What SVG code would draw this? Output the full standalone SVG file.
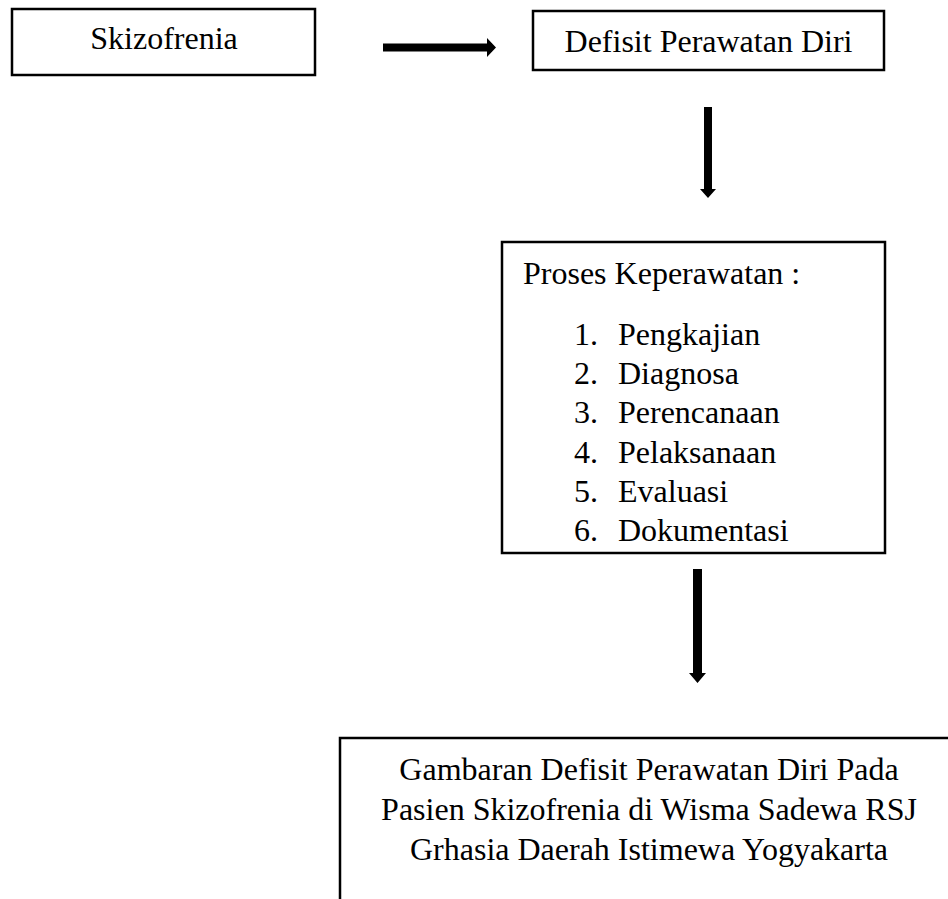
<svg xmlns="http://www.w3.org/2000/svg" width="948" height="899" viewBox="0 0 948 899">
<style>
.box{fill:#fff;stroke:#000;stroke-width:2.5}
.t{font-family:"Liberation Serif","Times New Roman",serif;font-size:32px;fill:#000}
.c{text-anchor:middle}
.arr{fill:#000}
</style>
<rect width="948" height="899" fill="#fff"/>
<g id="node-skizofrenia">
<rect class="box" x="12" y="9" width="303" height="66"/>
<text class="t c" x="164" y="49">Skizofrenia</text>
</g>
<g id="node-defisit">
<rect class="box" x="533" y="11" width="351" height="59"/>
<text class="t c" x="708.5" y="52">Defisit Perawatan Diri</text>
</g>
<g id="node-proses">
<rect class="box" x="502" y="242" width="383" height="311"/>
<text class="t" x="523" y="284">Proses Keperawatan :</text>
<text class="t" x="574" y="345">1.</text><text class="t" x="618" y="345">Pengkajian</text>
<text class="t" x="574" y="384">2.</text><text class="t" x="618" y="384">Diagnosa</text>
<text class="t" x="574" y="423">3.</text><text class="t" x="618" y="423">Perencanaan</text>
<text class="t" x="574" y="463">4.</text><text class="t" x="618" y="463">Pelaksanaan</text>
<text class="t" x="574" y="502">5.</text><text class="t" x="618" y="502">Evaluasi</text>
<text class="t" x="574" y="541">6.</text><text class="t" x="618" y="541">Dokumentasi</text>
</g>
<g id="node-gambaran">
<rect class="box" x="340" y="738" width="620" height="200"/>
<text class="t c" x="649" y="780">Gambaran Defisit Perawatan Diri Pada</text>
<text class="t c" x="649" y="820">Pasien Skizofrenia di Wisma Sadewa RSJ</text>
<text class="t c" x="649" y="860">Grhasia Daerah Istimewa Yogyakarta</text>
</g>
<g id="connectors">
<polygon class="arr" points="383,43.5 487,43.5 487,38 496,47.5 487,57 487,51.5 383,51.5"/>
<polygon class="arr" points="704,107 712,107 712,189 716,189 708,198 700,189 704,189"/>
<polygon class="arr" points="693,569 702,569 702,673 706,673 697.5,683 689,673 693,673"/>
</g>
</svg>
